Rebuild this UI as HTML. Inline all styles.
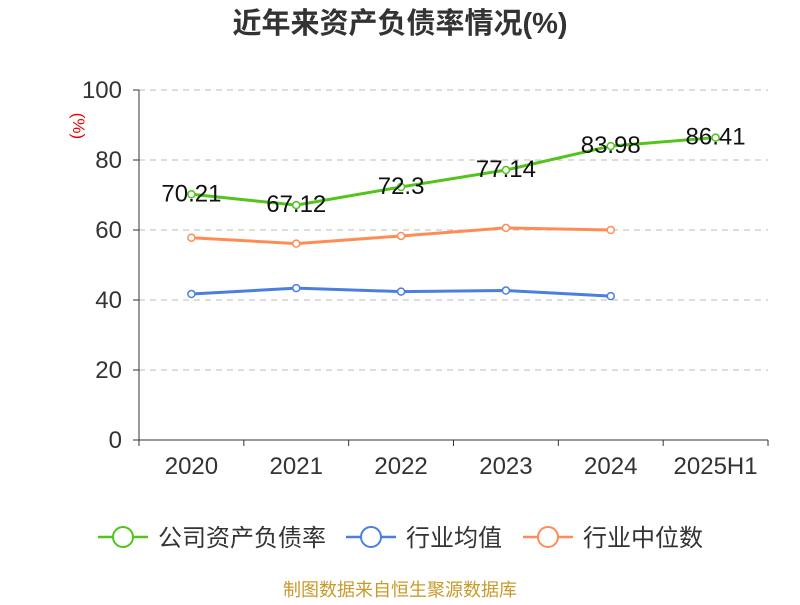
<!DOCTYPE html>
<html><head><meta charset="utf-8"><style>
body{margin:0;background:#fff;}
svg{font-family:"Liberation Sans","Noto Sans CJK SC",sans-serif;}
</style></head><body>
<svg id="c" width="800" height="600">
<text x="400" y="33" text-anchor="middle" font-size="29" font-weight="bold" fill="#333">近年来资产负债率情况(%)</text>
<text x="78" y="126" font-size="17" fill="#e00" transform="rotate(90 78 126)" text-anchor="middle" dy="5">(%)</text>
<g id="grid"></g><g id="axes"></g><g id="series"></g>
<g font-size="24" fill="#333">
<g><line x1="98" y1="537" x2="148" y2="537" stroke="#52c41a" stroke-width="2.5"/><circle cx="123" cy="537" r="10" fill="#fff" stroke="#52c41a" stroke-width="2"/><text x="158" y="546">公司资产负债率</text></g>
<g><line x1="346" y1="537" x2="396" y2="537" stroke="#4a7fe0" stroke-width="2.5"/><circle cx="371" cy="537" r="10" fill="#fff" stroke="#4a7fe0" stroke-width="2"/><text x="406" y="546">行业均值</text></g>
<g><line x1="523" y1="537" x2="573" y2="537" stroke="#ff8c55" stroke-width="2.5"/><circle cx="548" cy="537" r="10" fill="#fff" stroke="#ff8c55" stroke-width="2"/><text x="583" y="546">行业中位数</text></g>
</g>
<text x="400" y="596" text-anchor="middle" font-size="18" fill="#c89a2a">制图数据来自恒生聚源数据库</text>
</svg>
<script>
const categories=["2020","2021","2022","2023","2024","2025H1"];
const companyVals=[70.21,67.12,72.3,77.14,83.98,86.41];
const companyLabels=["70.21","67.12","72.3","77.14","83.98","86.41"];
const avgVals=[41.7,43.4,42.4,42.7,41.1];
const medianVals=[57.8,56.1,58.3,60.6,60.0];
const yTicks=[0,20,40,60,80,100];
const NS="http://www.w3.org/2000/svg";
const L=139,R=768,T=90,B=440;
const bw=(R-L)/categories.length;
const xs=i=>L+bw*(i+0.5);
const ys=v=>B-(v/100)*(B-T);
function mk(tag,attrs,parent){const e=document.createElementNS(NS,tag);for(const k in attrs)e.setAttribute(k,attrs[k]);parent.appendChild(e);return e;}
const grid=document.getElementById('grid'),axes=document.getElementById('axes'),ser=document.getElementById('series');
yTicks.forEach(t=>{
 if(t>0){const g=mk('line',{x1:L,x2:R,y1:ys(t),y2:ys(t),stroke:'#bbb','stroke-dasharray':'6,5'},grid);
 
 }
 const tk=mk('line',{x1:L-6,x2:L,y1:ys(t),y2:ys(t),stroke:'#333'},axes);
 
 
 const tx=mk('text',{x:L-17,y:ys(t)+8,'text-anchor':'end','font-size':24,fill:'#333'},axes);tx.textContent=t;
 
 
});
const ya=mk('line',{x1:L,x2:L,y1:T,y2:B,stroke:'#333'},axes);


const xa=mk('line',{x1:L,x2:R,y1:B,y2:B,stroke:'#333'},axes);


for(let i=0;i<=categories.length;i++){const tk=mk('line',{x1:L+bw*i,x2:L+bw*i,y1:B,y2:B+6,stroke:'#333'},axes);
 
 }
categories.forEach((c,i)=>{const tx=mk('text',{x:xs(i),y:B+34,'text-anchor':'middle','font-size':24,fill:'#333'},axes);tx.textContent=c;
 
 });
function series(vals,color,name,r){
 const g=mk('g',{},ser);
 
 
 mk('polyline',{points:vals.map((v,i)=>xs(i)+','+ys(v)).join(' '),fill:'none',stroke:color,'stroke-width':3},g);
 vals.forEach((v,i)=>{const p=mk('circle',{cx:xs(i),cy:ys(v),r:r,fill:'#fff',stroke:color,'stroke-width':1.5},g);
 
 });
 return g;
}
series(avgVals,'#4a7fe0','industry-avg-line',3.5);
series(medianVals,'#ff8c55','industry-median-line',3.5);
series(companyVals,'#52c41a','company-line',3.5);
companyVals.forEach((v,i)=>{const tx=mk('text',{x:xs(i),y:ys(v)+7,'text-anchor':'middle','font-size':24,fill:'#111'},ser);tx.textContent=companyLabels[i];
 
 });
</script>
</body></html>
